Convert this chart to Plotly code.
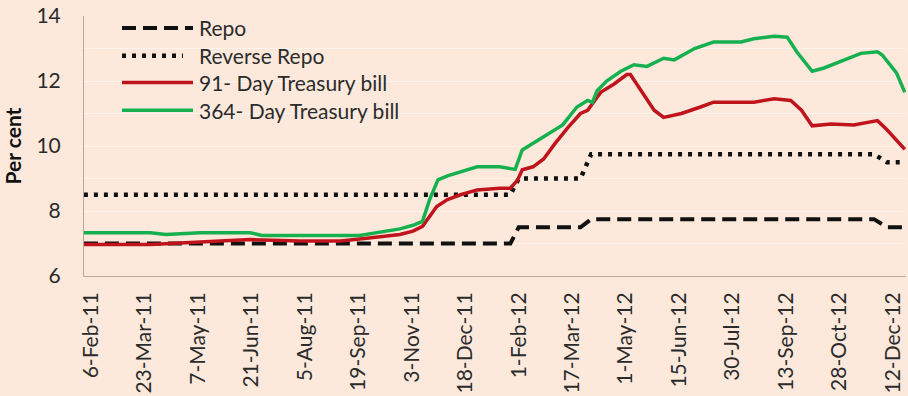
import plotly.graph_objects as go

# Policy corridor rates (per cent)
repo_dates = ["2011-01-31", "2012-01-25", "2012-02-01", "2012-03-24", "2012-04-02",
              "2012-11-26", "2012-12-07", "2012-12-22"]
repo_vals = [7.0, 7.0, 7.5, 7.5, 7.75, 7.75, 7.5, 7.5]

rev_repo_dates = ["2011-01-31", "2012-01-25", "2012-02-01", "2012-03-24", "2012-04-02",
                  "2012-11-26", "2012-12-07", "2012-12-22"]
rev_repo_vals = [8.5, 8.5, 9.0, 9.0, 9.75, 9.75, 9.5, 9.5]

# 91-day Treasury bill yield
tb91_dates = ["2011-01-31", "2011-03-28", "2011-05-09", "2011-06-20", "2011-08-01",
              "2011-09-04", "2011-09-28", "2011-10-24", "2011-11-04", "2011-11-12",
              "2011-11-24", "2011-12-03", "2011-12-14", "2011-12-28", "2012-01-16",
              "2012-01-25", "2012-01-31", "2012-02-04", "2012-02-13", "2012-02-22",
              "2012-03-02", "2012-03-13", "2012-03-24", "2012-03-30", "2012-04-03",
              "2012-04-10", "2012-04-21", "2012-05-02", "2012-05-05", "2012-05-14",
              "2012-05-25", "2012-06-02", "2012-06-17", "2012-07-03", "2012-07-14",
              "2012-08-17", "2012-09-03", "2012-09-17", "2012-09-26", "2012-10-05",
              "2012-10-21", "2012-11-09", "2012-11-29", "2012-12-07", "2012-12-20",
              "2012-12-22"]
tb91_vals = [6.97, 6.97, 7.05, 7.12, 7.08,
             7.08, 7.17, 7.28, 7.38, 7.53,
             8.14, 8.35, 8.5, 8.65, 8.7,
             8.7, 8.95, 9.27, 9.36, 9.6,
             10.05, 10.55, 11.0, 11.1, 11.3,
             11.65, 11.9, 12.2, 12.2, 11.7,
             11.1, 10.88, 11.0, 11.2, 11.35,
             11.35, 11.45, 11.4, 11.1, 10.62,
             10.68, 10.65, 10.78, 10.5, 10.0,
             9.9]

# 364-day Treasury bill yield
tb364_dates = ["2011-01-31", "2011-03-28", "2011-04-10", "2011-05-09", "2011-06-20",
               "2011-06-30", "2011-09-20", "2011-10-10", "2011-10-24", "2011-11-04",
               "2011-11-12", "2011-11-18", "2011-11-25", "2011-12-03", "2011-12-14",
               "2011-12-28", "2012-01-16", "2012-01-29", "2012-02-04", "2012-02-13",
               "2012-02-25", "2012-03-09", "2012-03-21", "2012-03-30", "2012-04-03",
               "2012-04-07", "2012-04-15", "2012-04-27", "2012-05-08", "2012-05-19",
               "2012-06-02", "2012-06-11", "2012-06-28", "2012-07-14", "2012-08-06",
               "2012-08-17", "2012-09-03", "2012-09-14", "2012-09-22", "2012-10-05",
               "2012-10-15", "2012-10-29", "2012-11-15", "2012-11-29", "2012-12-03",
               "2012-12-15", "2012-12-22"]
tb364_vals = [7.33, 7.33, 7.28, 7.33, 7.33,
              7.25, 7.25, 7.37, 7.45, 7.56,
              7.68, 8.35, 8.96, 9.08, 9.2,
              9.36, 9.36, 9.28, 9.88, 10.09,
              10.35, 10.65, 11.2, 11.4, 11.34,
              11.7, 12.0, 12.3, 12.5, 12.45,
              12.7, 12.65, 13.0, 13.2, 13.2,
              13.3, 13.38, 13.35, 12.9, 12.3,
              12.4, 12.6, 12.85, 12.9, 12.8,
              12.25, 11.65]

tick_dates = ["2011-02-06", "2011-03-23", "2011-05-07", "2011-06-21", "2011-08-05",
              "2011-09-19", "2011-11-03", "2011-12-18", "2012-02-01", "2012-03-17",
              "2012-05-01", "2012-06-15", "2012-07-30", "2012-09-13", "2012-10-28",
              "2012-12-12"]
tick_labels = ["6-Feb-11", "23-Mar-11", "7-May-11", "21-Jun-11", "5-Aug-11",
               "19-Sep-11", "3-Nov-11", "18-Dec-11", "1-Feb-12", "17-Mar-12",
               "1-May-12", "15-Jun-12", "30-Jul-12", "13-Sep-12", "28-Oct-12",
               "12-Dec-12"]

series_names = ["Repo", "Reverse Repo", "91- Day Treasury bill", "364- Day Treasury bill"]

BG = "#FCE9DC"
TXT = "#2B2B2B"
RED = "#C0141C"
GREEN = "#16B04E"
FONT = "Lato"

styles = [
    dict(color="#111111", width=4, dash="14px,7px"),
    dict(color="#111111", width=4.5, dash="4px,6px"),
    dict(color=RED, width=3.5, dash="solid"),
    dict(color=GREEN, width=3.5, dash="solid"),
]

fig = go.Figure()
data = [(repo_dates, repo_vals), (rev_repo_dates, rev_repo_vals),
        (tb91_dates, tb91_vals), (tb364_dates, tb364_vals)]
for (d, v), name, st in zip(data, series_names, styles):
    fig.add_trace(go.Scatter(x=d, y=v, mode="lines", name=name, line=st,
                             showlegend=False))

# Legend drawn as sample lines plus labels in the upper-left corner
W, H, L, B = 822.0, 262.0, 84.0, 277.0
rows_y = [27, 55, 82, 110]
line_end = [193, 183, 193, 193]
for name, st, py, xe in zip(series_names, styles, rows_y, line_end):
    yp = (B - py) / H
    fig.add_shape(type="line", xref="paper", yref="paper",
                  x0=(122 - L) / W, x1=(xe - L) / W, y0=yp, y1=yp,
                  line=dict(color=st["color"], width=st["width"], dash=st["dash"]))
    fig.add_annotation(xref="paper", yref="paper", x=(197 - L) / W, y=yp,
                       text=name, showarrow=False, xanchor="left", yanchor="middle",
                       font=dict(family=FONT, size=21, color=TXT))

fig.update_layout(
    width=908, height=396,
    margin=dict(l=84, r=2, t=15, b=119),
    paper_bgcolor=BG, plot_bgcolor=BG,
    font=dict(family=FONT, size=21, color=TXT),
    xaxis=dict(
        type="date",
        range=["2011-01-31 02:00", "2012-12-23 00:00"],
        tickvals=tick_dates, ticktext=tick_labels,
        tickangle=-90, showgrid=False, zeroline=False,
        showline=True, linecolor="#B8A89C", linewidth=1,
        ticks="", ticklabelstandoff=7,
        tickfont=dict(family=FONT, size=21, color=TXT),
    ),
    yaxis=dict(
        range=[6, 14], dtick=2, tick0=6,
        showgrid=True, gridcolor="#FEF3EB", gridwidth=1,
        minor=dict(dtick=1, showgrid=True, gridcolor="#FEF3EB", gridwidth=1),
        zeroline=False, showline=True, linecolor="#B8A89C", linewidth=1,
        ticks="", ticklabelstandoff=18,
        tickfont=dict(family=FONT, size=21, color=TXT),
        title=dict(text="Per cent", standoff=12,
                   font=dict(family=FONT, size=21, color="#111111", weight="bold")),
    ),
)

fig.write_html("out.html")
